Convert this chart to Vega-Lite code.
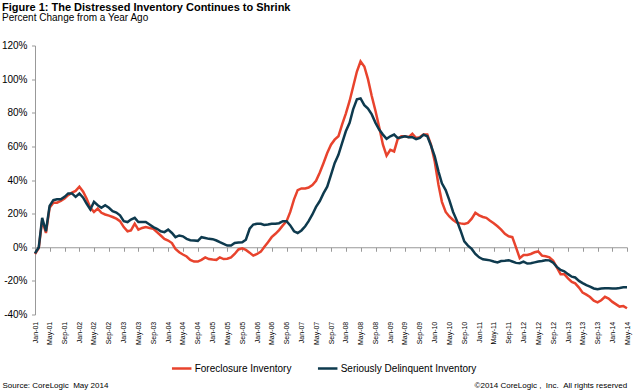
{
  "$schema": "https://vega.github.io/schema/vega-lite/v6.json",
  "width": 592,
  "height": 269,
  "autosize": {"type": "none"},
  "padding": {"left": 35, "top": 45.5, "right": 8, "bottom": 76.5},
  "background": "white",
  "config": {"font": "Liberation Sans", "view": {"stroke": null}},
  "title": {
    "text": "Figure 1: The Distressed Inventory Continues to Shrink",
    "subtitle": "Percent Change from a Year Ago",
    "anchor": "start",
    "frame": "group",
    "dx": -33,
    "offset": 18,
    "fontSize": 11,
    "fontWeight": "bold",
    "color": "black",
    "subtitleFontSize": 10,
    "subtitleColor": "black",
    "subtitlePadding": 0,
    "font": "Liberation Sans",
    "subtitleFont": "Liberation Sans"
  },
  "data": {"values": [
    {"d": "2001-01-01", "f": -4, "s": -3.6},
    {"d": "2001-02-01", "f": -0.5, "s": 0},
    {"d": "2001-03-01", "f": 16, "s": 17.5},
    {"d": "2001-04-01", "f": 8.5, "s": 9.5},
    {"d": "2001-05-01", "f": 23.5, "s": 24.5},
    {"d": "2001-06-01", "f": 26.5, "s": 28},
    {"d": "2001-07-01", "f": 26.5, "s": 28.5},
    {"d": "2001-08-01", "f": 27.5, "s": 28.5},
    {"d": "2001-09-01", "f": 29, "s": 30},
    {"d": "2001-10-01", "f": 31, "s": 32},
    {"d": "2001-11-01", "f": 32.5, "s": 32},
    {"d": "2001-12-01", "f": 33.5, "s": 30},
    {"d": "2002-01-01", "f": 36, "s": 32},
    {"d": "2002-02-01", "f": 33, "s": 29.5},
    {"d": "2002-03-01", "f": 29, "s": 26},
    {"d": "2002-04-01", "f": 23.5, "s": 22.5},
    {"d": "2002-05-01", "f": 21, "s": 27},
    {"d": "2002-06-01", "f": 23, "s": 25},
    {"d": "2002-07-01", "f": 20.5, "s": 23.5},
    {"d": "2002-08-01", "f": 19.5, "s": 25},
    {"d": "2002-09-01", "f": 18.8, "s": 23.5},
    {"d": "2002-10-01", "f": 18, "s": 21.5},
    {"d": "2002-11-01", "f": 17, "s": 20.6},
    {"d": "2002-12-01", "f": 15.5, "s": 19},
    {"d": "2003-01-01", "f": 12, "s": 15.5},
    {"d": "2003-02-01", "f": 9.5, "s": 15},
    {"d": "2003-03-01", "f": 10, "s": 16.5},
    {"d": "2003-04-01", "f": 14, "s": 17.5},
    {"d": "2003-05-01", "f": 10.5, "s": 15},
    {"d": "2003-06-01", "f": 11.5, "s": 15},
    {"d": "2003-07-01", "f": 12, "s": 15},
    {"d": "2003-08-01", "f": 11.5, "s": 13.5},
    {"d": "2003-09-01", "f": 11, "s": 12},
    {"d": "2003-10-01", "f": 9, "s": 11},
    {"d": "2003-11-01", "f": 7, "s": 9.5},
    {"d": "2003-12-01", "f": 5, "s": 9},
    {"d": "2004-01-01", "f": 4, "s": 10.5},
    {"d": "2004-02-01", "f": 2.5, "s": 8.5},
    {"d": "2004-03-01", "f": -1, "s": 6},
    {"d": "2004-04-01", "f": -3, "s": 7},
    {"d": "2004-05-01", "f": -4.3, "s": 6.5},
    {"d": "2004-06-01", "f": -5.5, "s": 5},
    {"d": "2004-07-01", "f": -7.5, "s": 4.2},
    {"d": "2004-08-01", "f": -8.5, "s": 4},
    {"d": "2004-09-01", "f": -8.5, "s": 3.8},
    {"d": "2004-10-01", "f": -7.5, "s": 6},
    {"d": "2004-11-01", "f": -6, "s": 5.5},
    {"d": "2004-12-01", "f": -7, "s": 5},
    {"d": "2005-01-01", "f": -7.3, "s": 4.8},
    {"d": "2005-02-01", "f": -7.5, "s": 4},
    {"d": "2005-03-01", "f": -6, "s": 3},
    {"d": "2005-04-01", "f": -7, "s": 2},
    {"d": "2005-05-01", "f": -6.8, "s": 1},
    {"d": "2005-06-01", "f": -6, "s": 1},
    {"d": "2005-07-01", "f": -4, "s": 2.5},
    {"d": "2005-08-01", "f": -1.3, "s": 2.8},
    {"d": "2005-09-01", "f": -0.6, "s": 3},
    {"d": "2005-10-01", "f": -1.6, "s": 4.5},
    {"d": "2005-11-01", "f": -3.2, "s": 11},
    {"d": "2005-12-01", "f": -5, "s": 13.5},
    {"d": "2006-01-01", "f": -4, "s": 14},
    {"d": "2006-02-01", "f": -2.6, "s": 14},
    {"d": "2006-03-01", "f": 0.2, "s": 13.3},
    {"d": "2006-04-01", "f": 3, "s": 13.5},
    {"d": "2006-05-01", "f": 6, "s": 14},
    {"d": "2006-06-01", "f": 8, "s": 14},
    {"d": "2006-07-01", "f": 10.2, "s": 14.3},
    {"d": "2006-08-01", "f": 13, "s": 15.5},
    {"d": "2006-09-01", "f": 15.5, "s": 15.5},
    {"d": "2006-10-01", "f": 21, "s": 13},
    {"d": "2006-11-01", "f": 28.5, "s": 9.5},
    {"d": "2006-12-01", "f": 34, "s": 8.5},
    {"d": "2007-01-01", "f": 35, "s": 10},
    {"d": "2007-02-01", "f": 35, "s": 12.5},
    {"d": "2007-03-01", "f": 35.5, "s": 15.5},
    {"d": "2007-04-01", "f": 37, "s": 19.5},
    {"d": "2007-05-01", "f": 39.5, "s": 24},
    {"d": "2007-06-01", "f": 44.5, "s": 27.5},
    {"d": "2007-07-01", "f": 50, "s": 32},
    {"d": "2007-08-01", "f": 56, "s": 36},
    {"d": "2007-09-01", "f": 61, "s": 43},
    {"d": "2007-10-01", "f": 64, "s": 50},
    {"d": "2007-11-01", "f": 66, "s": 55},
    {"d": "2007-12-01", "f": 73, "s": 62},
    {"d": "2008-01-01", "f": 79.5, "s": 69},
    {"d": "2008-02-01", "f": 87, "s": 74},
    {"d": "2008-03-01", "f": 95.5, "s": 82},
    {"d": "2008-04-01", "f": 104.5, "s": 88},
    {"d": "2008-05-01", "f": 110.5, "s": 88.5},
    {"d": "2008-06-01", "f": 107.5, "s": 84.5},
    {"d": "2008-07-01", "f": 100, "s": 82.5},
    {"d": "2008-08-01", "f": 90, "s": 79},
    {"d": "2008-09-01", "f": 81, "s": 74},
    {"d": "2008-10-01", "f": 71.5, "s": 70},
    {"d": "2008-11-01", "f": 61, "s": 67},
    {"d": "2008-12-01", "f": 54.5, "s": 64.5},
    {"d": "2009-01-01", "f": 58, "s": 66},
    {"d": "2009-02-01", "f": 57, "s": 67},
    {"d": "2009-03-01", "f": 64, "s": 65},
    {"d": "2009-04-01", "f": 66, "s": 65.4},
    {"d": "2009-05-01", "f": 66, "s": 66},
    {"d": "2009-06-01", "f": 65.5, "s": 65.5},
    {"d": "2009-07-01", "f": 67.5, "s": 65.5},
    {"d": "2009-08-01", "f": 65, "s": 64.3},
    {"d": "2009-09-01", "f": 65.5, "s": 65},
    {"d": "2009-10-01", "f": 67, "s": 67},
    {"d": "2009-11-01", "f": 67, "s": 66},
    {"d": "2009-12-01", "f": 61, "s": 60.5},
    {"d": "2010-01-01", "f": 51, "s": 54},
    {"d": "2010-02-01", "f": 37, "s": 45},
    {"d": "2010-03-01", "f": 27, "s": 38},
    {"d": "2010-04-01", "f": 21, "s": 34},
    {"d": "2010-05-01", "f": 18.3, "s": 28},
    {"d": "2010-06-01", "f": 16.2, "s": 21},
    {"d": "2010-07-01", "f": 14.7, "s": 16},
    {"d": "2010-08-01", "f": 14.2, "s": 10},
    {"d": "2010-09-01", "f": 13.9, "s": 3.5},
    {"d": "2010-10-01", "f": 14.5, "s": 1},
    {"d": "2010-11-01", "f": 17, "s": -1},
    {"d": "2010-12-01", "f": 20.5, "s": -4},
    {"d": "2011-01-01", "f": 19, "s": -6},
    {"d": "2011-02-01", "f": 18, "s": -7.2},
    {"d": "2011-03-01", "f": 17.5, "s": -7.5},
    {"d": "2011-04-01", "f": 15.8, "s": -7.8},
    {"d": "2011-05-01", "f": 14.3, "s": -8.5},
    {"d": "2011-06-01", "f": 12.5, "s": -9},
    {"d": "2011-07-01", "f": 10.5, "s": -8.2},
    {"d": "2011-08-01", "f": 8, "s": -8},
    {"d": "2011-09-01", "f": 6.5, "s": -7.7},
    {"d": "2011-10-01", "f": 6, "s": -8.5},
    {"d": "2011-11-01", "f": -0.2, "s": -9.3},
    {"d": "2011-12-01", "f": -6.5, "s": -9.5},
    {"d": "2012-01-01", "f": -4.6, "s": -8.5},
    {"d": "2012-02-01", "f": -4.6, "s": -9.7},
    {"d": "2012-03-01", "f": -4, "s": -9.5},
    {"d": "2012-04-01", "f": -3, "s": -9},
    {"d": "2012-05-01", "f": -2.5, "s": -8.5},
    {"d": "2012-06-01", "f": -5, "s": -8.2},
    {"d": "2012-07-01", "f": -5.4, "s": -7.7},
    {"d": "2012-08-01", "f": -6, "s": -7.8},
    {"d": "2012-09-01", "f": -8, "s": -9.2},
    {"d": "2012-10-01", "f": -12, "s": -11.7},
    {"d": "2012-11-01", "f": -16, "s": -13.5},
    {"d": "2012-12-01", "f": -16, "s": -14.3},
    {"d": "2013-01-01", "f": -18.5, "s": -16},
    {"d": "2013-02-01", "f": -20.6, "s": -17.5},
    {"d": "2013-03-01", "f": -21.5, "s": -18},
    {"d": "2013-04-01", "f": -24, "s": -20},
    {"d": "2013-05-01", "f": -27, "s": -21.3},
    {"d": "2013-06-01", "f": -28.2, "s": -22.5},
    {"d": "2013-07-01", "f": -29.6, "s": -23.4},
    {"d": "2013-08-01", "f": -31.8, "s": -24.5},
    {"d": "2013-09-01", "f": -32.8, "s": -25},
    {"d": "2013-10-01", "f": -31.5, "s": -24.6},
    {"d": "2013-11-01", "f": -29.5, "s": -24.4},
    {"d": "2013-12-01", "f": -30.5, "s": -24.4},
    {"d": "2014-01-01", "f": -32.5, "s": -24.6},
    {"d": "2014-02-01", "f": -34, "s": -24.5},
    {"d": "2014-03-01", "f": -35.3, "s": -24.2},
    {"d": "2014-04-01", "f": -35, "s": -23.8},
    {"d": "2014-05-01", "f": -36.3, "s": -23.8}
  ]},
  "transform": [{"fold": ["f", "s"], "as": ["series", "value"]}],
  "mark": {"type": "line", "strokeWidth": 2.5, "interpolate": "linear"},
  "encoding": {
    "x": {
      "field": "d",
      "type": "temporal",
      "scale": {
        "type": "utc",
        "domain": [
          {"year": 2001, "month": 1, "date": 1, "utc": true},
          {"year": 2014, "month": 5, "date": 1, "utc": true}
        ],
        "nice": false
      },
      "axis": {
        "offset": -67.25,
        "format": "%b-%y",
        "tickCount": {"interval": "month", "step": 4},
        "labelAngle": -90,
        "labelFontSize": 7,
        "labelPadding": 70,
        "tickSize": 4,
        "domainColor": "#999999",
        "tickColor": "#999999",
        "labelColor": "black",
        "labelOverlap": false,
        "labelBound": false,
        "labelFlush": false,
        "grid": false,
        "title": "Source: CoreLogic\u00a0\u00a0May 2014",
        "titleFontSize": 8,
        "titleFontWeight": "normal",
        "titleColor": "black",
        "titleX": -33,
        "titleY": 140.25,
        "titleAlign": "left",
        "titleBaseline": "alphabetic",
        "titleAngle": 0
      }
    },
    "y": {
      "field": "value",
      "type": "quantitative",
      "scale": {"domain": [-40, 120], "nice": false, "zero": false},
      "axis": {
        "values": [-40, -20, 0, 20, 40, 60, 80, 100, 120],
        "labelExpr": "datum.value + '%'",
        "labelFontSize": 10,
        "labelColor": "black",
        "tickSize": 3.5,
        "labelPadding": 4.5,
        "domainColor": "#999999",
        "tickColor": "#999999",
        "grid": false,
        "title": "©2014 CoreLogic ,\u00a0\u00a0Inc.\u00a0\u00a0All rights reserved",
        "titleAngle": 0,
        "titleX": 591.7,
        "titleY": 341.8,
        "titleAlign": "right",
        "titleBaseline": "alphabetic",
        "titleFontSize": 8,
        "titleFontWeight": "normal",
        "titleColor": "black"
      }
    },
    "color": {
      "field": "series",
      "type": "nominal",
      "scale": {"domain": ["f", "s"], "range": ["#E8432D", "#0E3A4E"]},
      "legend": {
        "orient": "none",
        "legendX": 135.7,
        "legendY": 312,
        "direction": "horizontal",
        "title": null,
        "symbolType": "stroke",
        "symbolStrokeWidth": 2.5,
        "symbolSize": 380,
        "labelFontSize": 10,
        "labelColor": "black",
        "labelOffset": 2,
        "columnPadding": 21,
        "padding": 0,
        "labelLimit": 300,
        "labelExpr": "datum.label == 'f' ? 'Foreclosure Inventory' : 'Seriously Delinquent Inventory'"
      }
    }
  }
}
